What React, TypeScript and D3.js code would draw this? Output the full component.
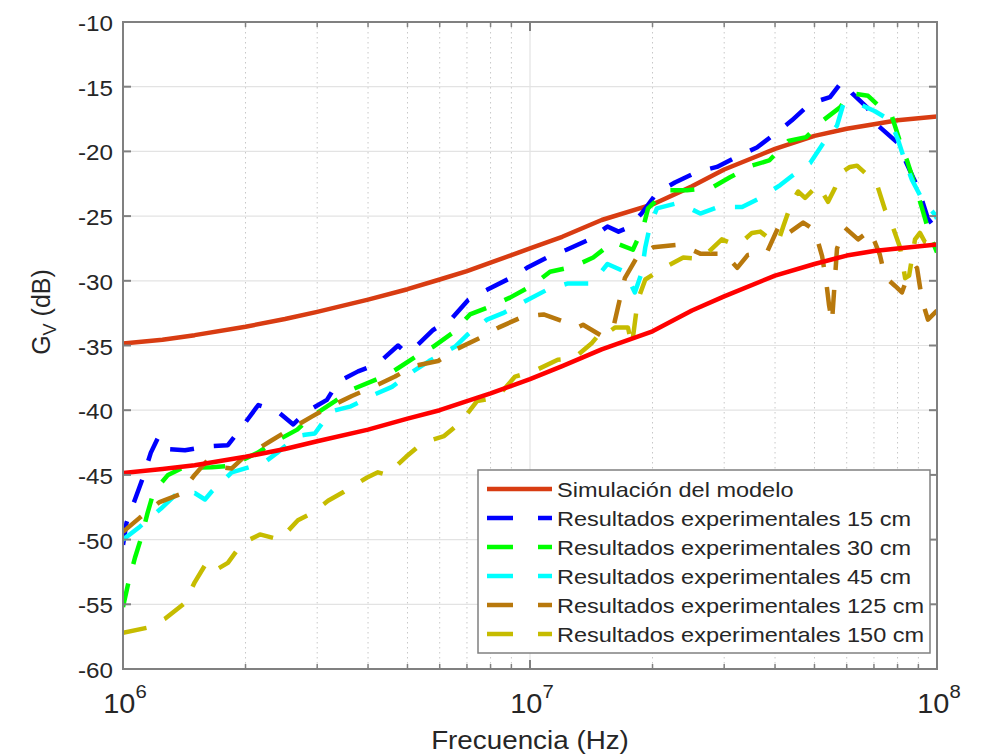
import React from "react";
import * as d3 from "d3";

// frequency in MHz, Gv in dB
const simUpper: [number, number][] = [[1, -34.85], [1.25, -34.55], [1.5, -34.2], [2, -33.55], [2.5, -32.95], [3, -32.4], [4, -31.45], [5, -30.65], [6, -29.9], [7, -29.25], [8, -28.6], [10, -27.5], [12, -26.6], [15, -25.3], [20, -24.1], [25, -22.7], [30, -21.4], [40, -19.8], [50, -18.8], [60, -18.25], [70, -17.9], [80, -17.6], [100, -17.3]];
const simLower: [number, number][] = [[1, -44.85], [1.25, -44.55], [1.5, -44.25], [2, -43.6], [2.5, -43.0], [3, -42.4], [4, -41.5], [5, -40.65], [6, -40.0], [7, -39.3], [8, -38.7], [10, -37.6], [12, -36.6], [15, -35.3], [20, -33.9], [25, -32.3], [30, -31.2], [40, -29.6], [50, -28.7], [60, -28.05], [70, -27.7], [80, -27.5], [100, -27.2]];

const exp15: [number, number][] = [[1.0, -50.4], [1.02, -48.7], [1.07, -46.9], [1.12, -45.2], [1.17, -43.3], [1.22, -42.1], [1.27, -43.0], [1.42, -43.1], [1.61, -42.8], [1.81, -42.7], [1.96, -41.3], [2.15, -39.6], [2.4, -40.1], [2.62, -41.1], [2.83, -40.1], [3.17, -39.2], [3.38, -37.8], [3.78, -37.0], [4.23, -36.4], [4.74, -35.0], [4.93, -35.5], [5.28, -35.0], [5.78, -33.8], [6.43, -32.9], [7.04, -31.5], [7.84, -30.7], [8.93, -29.8], [9.83, -29.0], [11.0, -28.2], [12.3, -27.6], [14.0, -26.8], [15.5, -25.8], [16.5, -26.2], [17.4, -25.9], [18.8, -24.8], [20.5, -23.2], [22.7, -22.4], [25.7, -21.6], [28.8, -21.2], [32.8, -20.3], [36.1, -19.7], [40.5, -18.5], [44.0, -17.6], [48.8, -16.3], [54.6, -15.8], [58.4, -14.6], [61.8, -15.5], [67.3, -16.6], [71.6, -18.0], [79.8, -19.3], [87.3, -22.0], [89.8, -22.8], [95.0, -25.2], [100, -26.1]];
const exp30: [number, number][] = [[1.0, -55.2], [1.03, -53.4], [1.07, -51.4], [1.11, -49.8], [1.15, -47.9], [1.19, -46.3], [1.29, -45.0], [1.39, -44.5], [1.65, -44.4], [1.83, -44.3], [2.14, -43.3], [2.31, -42.6], [2.68, -41.5], [2.9, -40.5], [3.32, -39.3], [3.65, -38.4], [4.21, -37.6], [4.61, -37.0], [5.22, -35.9], [5.78, -35.1], [6.47, -34.0], [7.12, -32.6], [7.98, -32.0], [8.93, -31.3], [10.2, -30.3], [11.2, -29.3], [12.8, -28.9], [14.3, -28.2], [16.0, -27.0], [17.9, -27.6], [19.0, -25.8], [19.5, -24.4], [21.7, -23.0], [24.3, -23.0], [28.0, -22.8], [31.0, -22.0], [35.1, -21.1], [38.7, -20.7], [43.1, -19.2], [47.7, -18.9], [52.5, -17.6], [57.8, -16.6], [61.1, -15.5], [67.7, -15.7], [73.7, -16.8], [77.5, -17.3], [82.0, -19.7], [84.4, -20.7], [89.3, -23.1], [91.9, -24.4], [96.1, -26.5], [100, -27.8]];
const exp45: [number, number][] = [[1.0, -50.0], [1.1, -49.0], [1.24, -47.6], [1.34, -46.6], [1.5, -46.4], [1.59, -46.9], [1.65, -46.3], [1.85, -44.8], [2.21, -44.1], [2.39, -43.3], [2.68, -42.0], [2.8, -41.9], [2.96, -41.8], [3.24, -40.1], [3.63, -39.7], [4.14, -38.8], [4.58, -38.2], [5.16, -37.0], [5.65, -36.2], [6.54, -35.1], [7.0, -34.2], [7.84, -33.0], [8.58, -32.5], [9.83, -31.5], [11.0, -30.7], [12.4, -30.2], [14.2, -30.2], [15.5, -28.7], [17.1, -29.3], [18.1, -30.9], [18.8, -29.4], [19.2, -27.4], [19.7, -25.8], [20.5, -24.4], [23.0, -24.0], [24.7, -24.4], [26.2, -24.8], [29.0, -24.3], [33.2, -24.3], [36.8, -23.6], [41.2, -22.6], [44.0, -21.9], [48.8, -20.9], [52.2, -19.5], [56.8, -18.0], [58.8, -16.4], [64.0, -16.3], [70.4, -16.9], [76.7, -17.6], [80.2, -19.1], [83.5, -20.8], [86.8, -22.2], [91.9, -23.7], [98.9, -24.9], [100, -25.2]];
const exp125: [number, number][] = [[1.0, -49.4], [1.1, -48.3], [1.23, -47.1], [1.38, -46.5], [1.5, -45.0], [1.61, -43.9], [1.73, -44.4], [1.85, -44.5], [1.97, -43.7], [2.3, -42.4], [2.53, -41.6], [2.91, -40.5], [3.19, -39.8], [3.65, -38.9], [4.05, -38.3], [4.66, -37.4], [5.16, -36.6], [5.94, -36.2], [6.58, -35.3], [7.54, -34.4], [8.39, -33.6], [9.56, -32.8], [10.8, -32.6], [12.2, -33.2], [13.1, -33.6], [13.5, -33.4], [14.9, -34.2], [15.6, -33.8], [16.0, -33.7], [16.6, -31.5], [17.1, -29.8], [18.3, -28.2], [20.1, -27.4], [23.4, -27.2], [26.2, -27.9], [30.1, -27.9], [32.3, -29.0], [34.3, -28.0], [38.2, -27.8], [40.7, -25.9], [41.9, -26.6], [46.9, -25.5], [50.1, -26.1], [52.2, -28.1], [53.4, -30.0], [54.3, -31.9], [55.2, -33.2], [56.8, -27.5], [59.4, -25.9], [64.0, -26.8], [68.5, -26.1], [72.4, -28.0], [74.5, -29.7], [78.9, -30.4], [82.0, -30.9], [84.9, -29.6], [89.3, -29.0], [91.9, -31.5], [95.0, -33.0], [100, -32.3]];
const exp150: [number, number][] = [[1.0, -57.2], [1.15, -56.8], [1.27, -56.1], [1.42, -54.9], [1.5, -53.3], [1.61, -51.7], [1.7, -52.3], [1.81, -51.8], [1.96, -50.3], [2.17, -49.6], [2.43, -50.0], [2.69, -48.5], [2.93, -47.9], [3.19, -47.0], [3.49, -46.3], [3.98, -45.2], [4.23, -44.8], [4.45, -45.0], [4.96, -43.6], [5.46, -42.5], [6.15, -42.0], [6.77, -40.9], [7.41, -39.3], [8.3, -39.0], [9.19, -37.4], [10.2, -37.0], [11.7, -36.1], [12.8, -36.0], [14.2, -34.8], [14.9, -34.0], [15.3, -33.7], [15.7, -33.9], [16.2, -33.6], [17.4, -33.6], [17.8, -35.0], [18.4, -31.5], [19.2, -29.9], [21.3, -29.0], [23.8, -28.2], [26.2, -28.3], [27.4, -27.8], [29.6, -26.8], [31.9, -27.2], [33.4, -26.9], [35.1, -26.3], [36.8, -26.2], [38.9, -26.8], [40.7, -27.0], [41.9, -25.8], [44.0, -23.9], [45.6, -23.1], [47.4, -23.6], [51.0, -22.6], [54.0, -23.9], [56.2, -22.8], [57.8, -21.7], [61.1, -21.2], [63.6, -21.1], [67.3, -21.8], [71.6, -22.8], [74.5, -24.5], [78.0, -25.9], [81.1, -27.4], [83.5, -29.8], [85.4, -29.6], [88.3, -26.8], [90.8, -26.3], [93.4, -27.0], [97.8, -27.2], [100, -27.4]];

const yTickValues = [-60, -55, -50, -45, -40, -35, -30, -25, -20, -15, -10];
const xMajorTicks = [1e6, 1e7, 1e8];
const xExponents = ["6", "7", "8"];

const legendLabels = [
  "Simulación del modelo",
  "Resultados experimentales 15 cm",
  "Resultados experimentales 30 cm",
  "Resultados experimentales 45 cm",
  "Resultados experimentales 125 cm",
  "Resultados experimentales 150 cm",
];

const FONT = "'Liberation Sans', Arial, Helvetica, sans-serif";
const TXT = "#262626";

const left = 123, right = 937, top = 22, bottom = 669;

const x = d3.scaleLog().domain([1e6, 1e8]).range([left, right]);
const y = d3.scaleLinear().domain([-60, -10]).range([bottom, top]);
const line = d3.line<[number, number]>().x(d => x(d[0] * 1e6)).y(d => y(d[1]));

const series = [
  { data: simUpper, color: "#d83c12", dashed: false, legend: 0 },
  { data: exp15, color: "#0000ff", dashed: true, legend: 1 },
  { data: exp30, color: "#00ff00", dashed: true, legend: 2 },
  { data: exp45, color: "#00ffff", dashed: true, legend: 3 },
  { data: exp125, color: "#b8780c", dashed: true, legend: 4 },
  { data: exp150, color: "#c6bc00", dashed: true, legend: 5 },
  { data: simLower, color: "#ff0000", dashed: false, legend: -1 },
];

const SText = ({ x0, y0, size, anchor = "start", sx = 1.1, children }: any) => (
  <text transform={`translate(${x0},${y0}) scale(${sx},1)`} textAnchor={anchor}
    fontFamily={FONT} fontSize={size} fill={TXT}>{children}</text>
);

export default function App() {
  const minor = x.ticks().filter(t => !xMajorTicks.includes(t));
  const legX = 478, legY = 470, legW = 452, legH = 183, rowH = 29;

  return (
    <svg width={985} height={755} style={{ position: "fixed", top: 0, left: 0, background: "#fff" }}>
      <rect width={985} height={755} fill="#fff" />
      <defs>
        <clipPath id="plotClip">
          <rect x={left} y={top} width={right - left} height={bottom - top} />
        </clipPath>
      </defs>

      {/* grid */}
      {minor.map((t, i) => (
        <line key={"mg" + i} x1={x(t)} x2={x(t)} y1={top} y2={bottom}
          stroke="#c8c8c8" strokeWidth={1} strokeDasharray="1.5,3.5" />
      ))}
      {xMajorTicks.map((t, i) => (
        <line key={"xg" + i} x1={x(t)} x2={x(t)} y1={top} y2={bottom} stroke="#e3e3e3" strokeWidth={1.2} />
      ))}
      {yTickValues.map((v, i) => (
        <line key={"yg" + i} x1={left} x2={right} y1={y(v)} y2={y(v)} stroke="#e3e3e3" strokeWidth={1.2} />
      ))}

      {/* curves */}
      <g clipPath="url(#plotClip)">
        {series.map((s, i) => (
          <path key={"s" + i} d={line(s.data) || ""} fill="none" stroke={s.color}
            strokeWidth={4.5} strokeDasharray={s.dashed ? "24,20" : undefined}
            strokeLinejoin="round" />
        ))}
      </g>

      {/* axes box and ticks */}
      <rect x={left} y={top} width={right - left} height={bottom - top} fill="none" stroke="#808080" strokeWidth={2} />
      {yTickValues.map((v, i) => (
        <g key={"yt" + i}>
          <line x1={left} x2={left + 8} y1={y(v)} y2={y(v)} stroke="#808080" strokeWidth={2} />
          <line x1={right} x2={right - 8} y1={y(v)} y2={y(v)} stroke="#808080" strokeWidth={2} />
          <SText x0={113} y0={y(v) + 9} size={22} anchor="end">{String(v)}</SText>
        </g>
      ))}
      {minor.map((t, i) => (
        <g key={"xm" + i}>
          <line x1={x(t)} x2={x(t)} y1={bottom} y2={bottom - 5} stroke="#808080" strokeWidth={1.5} />
          <line x1={x(t)} x2={x(t)} y1={top} y2={top + 5} stroke="#808080" strokeWidth={1.5} />
        </g>
      ))}
      {xMajorTicks.map((t, i) => (
        <g key={"xt" + i}>
          <line x1={x(t)} x2={x(t)} y1={bottom} y2={bottom - 9} stroke="#808080" strokeWidth={2} />
          <line x1={x(t)} x2={x(t)} y1={top} y2={top + 9} stroke="#808080" strokeWidth={2} />
          <SText x0={x(t) + 2} y0={713} size={27} anchor="middle" sx={1.07}>
            10<tspan dy={-15} fontSize={19}>{xExponents[i]}</tspan>
          </SText>
        </g>
      ))}

      {/* axis labels */}
      <SText x0={530} y0={749} size={26} anchor="middle" sx={1.07}>Frecuencia (Hz)</SText>
      <text transform="translate(50,312) rotate(-90)" textAnchor="middle" fontFamily={FONT} fontSize={25} fill={TXT}>
        G<tspan dy={6} fontSize={18}>V</tspan><tspan dy={-6}> (dB)</tspan>
      </text>

      {/* legend */}
      <rect x={legX} y={legY} width={legW} height={legH} fill="#fff" stroke="#808080" strokeWidth={1.5} />
      {series.filter(s => s.legend >= 0).map((s) => {
        const cy = 489 + s.legend * rowH;
        return (
          <g key={"lg" + s.legend}>
            <line x1={487} x2={552} y1={cy} y2={cy} stroke={s.color} strokeWidth={4.5}
              strokeDasharray={s.dashed ? "26,25" : undefined} />
            <SText x0={557} y0={cy + 8} size={21} sx={1.12}>{legendLabels[s.legend]}</SText>
          </g>
        );
      })}
    </svg>
  );
}
